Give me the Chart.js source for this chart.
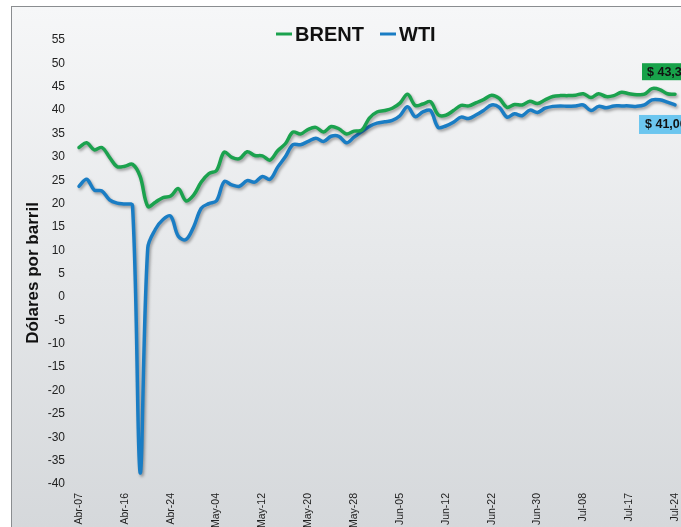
<!DOCTYPE html>
<html>
<head>
<meta charset="utf-8">
<script src="https://cdn.jsdelivr.net/npm/chart.js@4"></script>
<style>
  html, body { margin: 0; padding: 0; background: #fff; }
  #wrap { position: relative; width: 681px; height: 527px; overflow: hidden; }
  #frame { position: absolute; left: 11px; top: 6px; right: -2px; bottom: -2px;
    border: 1px solid #8a8d90; background: linear-gradient(#f6f7f8, #d5d8db); }
  canvas { position: absolute; left: 0; top: 0; }
</style>
</head>
<body>
<div id="wrap">
  <div id="frame"></div>
  <canvas id="chart" width="681" height="527"></canvas>
</div>
<script>
// one tick label every 6 points
const tickLabels = ["Abr-07", "Abr-16", "Abr-24", "May-04", "May-12", "May-20", "May-28",
  "Jun-05", "Jun-12", "Jun-22", "Jun-30", "Jul-08", "Jul-17", "Jul-24"];

const brent = [32.0, 33.0, 31.5, 32.0, 29.9, 27.9, 28.0, 28.4, 25.8, 19.4,
  20.3, 21.3, 21.6, 23.2, 20.6, 21.8, 24.6, 26.4, 27.1, 31.0,
  29.9, 29.6, 31.1, 30.3, 30.2, 29.3, 31.3, 32.8, 35.3, 34.9,
  35.9, 36.3, 35.3, 36.5, 36.0, 34.9, 35.5, 35.7, 38.3, 39.6,
  39.9, 40.4, 41.5, 43.4, 41.0, 41.3, 41.8, 39.0, 38.9, 39.9,
  41.0, 40.9, 41.6, 42.3, 43.2, 42.5, 40.6, 41.2, 41.1, 41.9,
  41.4, 42.2, 42.9, 43.1, 43.1, 43.2, 43.5, 42.7, 43.5, 42.9,
  43.1, 43.8, 43.5, 43.3, 43.4, 44.6, 44.4, 43.5, 43.4];

const wti = [23.7, 25.2, 22.9, 22.7, 20.8, 20.1, 19.9, 19.6, -37.6, 10.5,
  14.5, 16.6, 17.3, 13.0, 12.3, 15.0, 19.0, 20.0, 20.6, 24.7,
  24.0, 23.7, 24.9, 24.6, 25.8, 25.2, 27.8, 30.0, 32.6, 32.6,
  33.3, 34.0, 33.3, 34.4, 34.4, 33.0, 34.2, 35.4, 36.5, 37.2,
  37.5, 37.8, 38.8, 40.7, 38.6, 39.6, 39.9, 36.3, 36.6, 37.4,
  38.5, 38.2, 39.0, 40.0, 41.1, 40.6, 38.5, 39.2, 38.8, 40.0,
  39.5, 40.4, 40.8, 40.9, 40.8, 40.9, 41.1, 39.9, 40.8, 40.5,
  40.9, 40.9, 40.9, 40.8, 41.1, 42.2, 42.2, 41.7, 41.1];

const seriesNames = ["BRENT", "WTI"];
const endLabels = ["$ 43,34", "$ 41,06"];
const yTitle = "Dólares por barril";

const GREEN = "#1ba24e";
const BLUE = "#1a7dc4";
const FONT = "'Liberation Sans', Arial, sans-serif";

const shadowPlugin = {
  id: "lineShadow",
  beforeDatasetDraw(chart) {
    const c = chart.ctx;
    c.save();
    c.shadowColor = "rgba(0,0,0,0.35)";
    c.shadowBlur = 3;
    c.shadowOffsetX = 1.5;
    c.shadowOffsetY = 2;
  },
  afterDatasetDraw(chart) {
    chart.ctx.restore();
  }
};

const decorPlugin = {
  id: "decor",
  afterDraw(chart) {
    const c = chart.ctx;
    c.save();

    // legend
    c.font = "bold 20px " + FONT;
    c.textBaseline = "middle";
    c.lineWidth = 3;
    const items = [[276, GREEN, seriesNames[0]], [380, BLUE, seriesNames[1]]];
    items.forEach(([x, col, txt]) => {
      c.strokeStyle = col;
      c.beginPath();
      c.moveTo(x, 34);
      c.lineTo(x + 16, 34);
      c.stroke();
      c.fillStyle = "#111";
      c.fillText(txt, x + 19, 35);
    });

    // y title
    c.save();
    c.translate(33, 273);
    c.rotate(-Math.PI / 2);
    c.font = "bold 17px " + FONT;
    c.textAlign = "center";
    c.fillStyle = "#111";
    c.fillText(yTitle, 0, 0);
    c.restore();

    // end value labels
    const xs = chart.scales.x, ys = chart.scales.y;
    const last = brent.length - 1;
    const bx = xs.getPixelForValue(last);
    const by = ys.getPixelForValue(brent[last]);
    const wy = ys.getPixelForValue(wti[last]);
    c.font = "bold 12.5px " + FONT;
    c.textBaseline = "middle";
    c.fillStyle = "#18a24a";
    c.fillRect(bx - 33, by - 31, 60, 17);
    c.fillStyle = "#111";
    c.fillText(endLabels[0], bx - 28, by - 22);
    c.fillStyle = "#6cc6ef";
    c.fillRect(bx - 36, wy + 10, 60, 19);
    c.fillStyle = "#111";
    c.fillText(endLabels[1], bx - 30, wy + 20);

    c.restore();
  }
};

new Chart(document.getElementById("chart"), {
  type: "line",
  data: {
    labels: brent.map((_, i) => i),
    datasets: [
      { label: seriesNames[0], data: brent, borderColor: GREEN },
      { label: seriesNames[1], data: wti, borderColor: BLUE }
    ]
  },
  options: {
    responsive: false,
    animation: false,
    layout: { padding: { top: 40, right: 6, left: 0, bottom: 0 } },
    elements: {
      line: { borderWidth: 3.5, tension: 0.35, borderCapStyle: "round", borderJoinStyle: "round", fill: false },
      point: { radius: 0 }
    },
    datasets: { line: { clip: false } },
    plugins: { legend: { display: false }, tooltip: { enabled: false } },
    scales: {
      x: {
        grid: { display: false, drawTicks: false },
        border: { display: false },
        ticks: {
          autoSkip: false, maxRotation: 90, minRotation: 90, padding: 9,
          color: "#222", font: { family: FONT, size: 10.5 },
          callback: (v, i) => (i % 6 === 0 ? tickLabels[i / 6] : "")
        },
        afterFit: s => { s.height = 43; s.paddingLeft = 0; s.paddingRight = 0; }
      },
      y: {
        min: -40, max: 55,
        grid: { display: false, drawTicks: false },
        border: { display: false },
        ticks: { stepSize: 5, padding: 14, color: "#222", font: { family: FONT, size: 12 } },
        afterFit: s => { s.width = 79; s.paddingTop = 0; s.paddingBottom = 0; }
      }
    }
  },
  plugins: [shadowPlugin, decorPlugin]
});
</script>
</body>
</html>
